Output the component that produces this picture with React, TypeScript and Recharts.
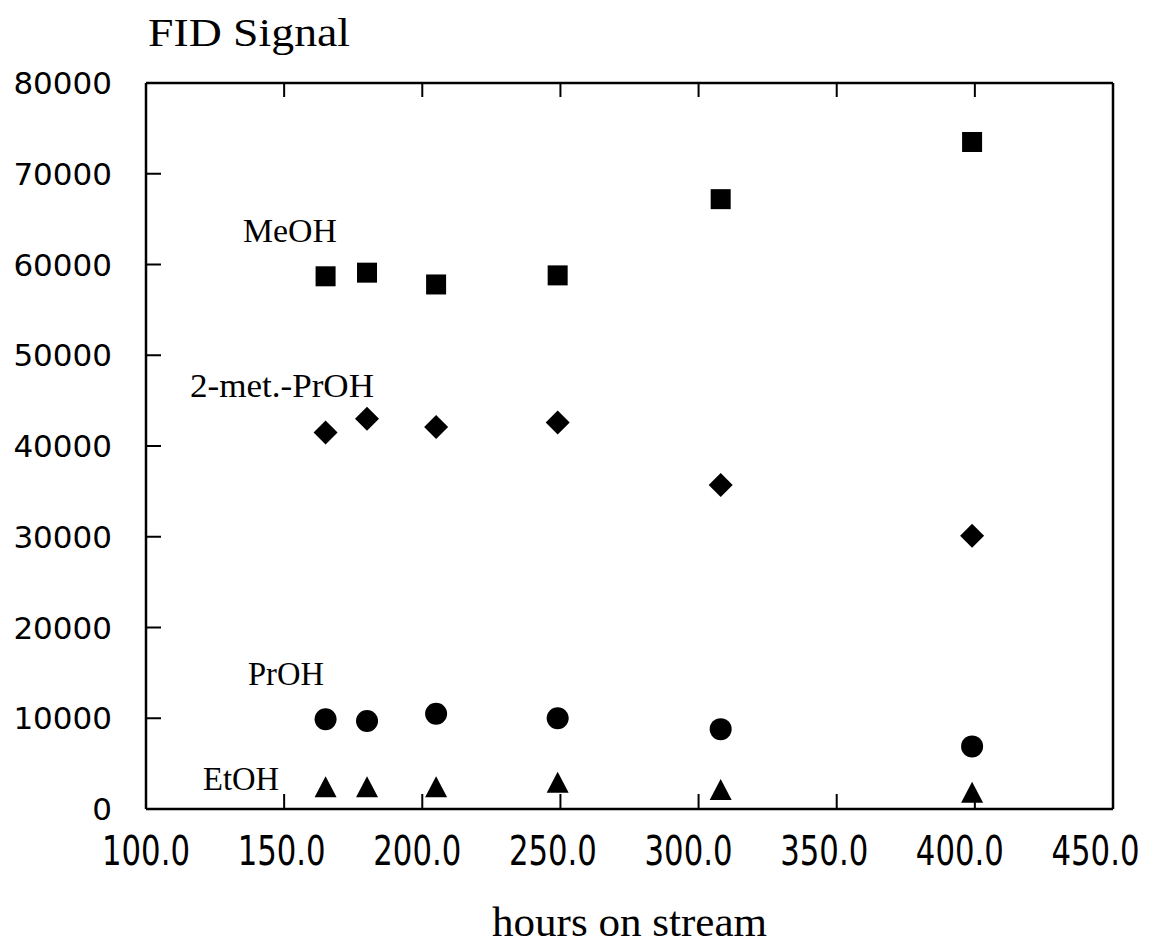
import { ScatterChart, Scatter, XAxis, YAxis } from "recharts";

const hours = [165, 180, 205, 249, 308, 399];
const meoh = [58700, 59100, 57800, 58800, 67200, 73500];
const metPrOH = [41500, 43000, 42100, 42600, 35700, 30100];
const prOH = [9900, 9700, 10500, 10000, 8800, 6900];
const etOH = [2400, 2400, 2400, 2900, 2100, 1800];

const xTicks = [100, 150, 200, 250, 300, 350, 400, 450];
const yTicks = [0, 10000, 20000, 30000, 40000, 50000, 60000, 70000, 80000];

const toPoints = (vals: number[]) => hours.map((h, i) => ({ x: h, y: vals[i] }));

const serif = "'Liberation Serif', 'Times New Roman', serif";
const sans = "'DejaVu Sans', Verdana, sans-serif";

const SquareDot = (p: any) => (
  <rect x={p.cx - 10} y={p.cy - 10} width={20} height={20} fill="#000" />
);
const DiamondDot = (p: any) => (
  <polygon
    points={`${p.cx},${p.cy - 12} ${p.cx + 12},${p.cy} ${p.cx},${p.cy + 12} ${p.cx - 12},${p.cy}`}
    fill="#000"
  />
);
const CircleDot = (p: any) => <circle cx={p.cx} cy={p.cy} r={11} fill="#000" />;
const TriangleDot = (p: any) => (
  <polygon
    points={`${p.cx},${p.cy - 11} ${p.cx + 11},${p.cy + 10} ${p.cx - 11},${p.cy + 10}`}
    fill="#000"
  />
);
const NoDot = () => <g />;

const isEdge = (v: number, lo: number, hi: number) => v === lo || v === hi;

// every axis uses tickSize=1 / tickMargin=1, so the axis line is 2px from p.x / p.y;
// tick marks are drawn here pointing into the plot

const XTick = (p: any) => {
  const v = p.payload.value;
  const base = p.y - 2;
  return (
    <g>
      {!isEdge(v, 100, 450) && (
        <line x1={p.x} y1={base} x2={p.x} y2={base - 15} stroke="#000" strokeWidth={2} />
      )}
      <text
        x={p.x - p.index * 2.5}
        y={base + 56}
        textAnchor="middle"
        fontFamily={sans}
        fontSize={40}
        textLength={88}
        lengthAdjust="spacingAndGlyphs"
        fill="#000"
      >
        {v.toFixed(1)}
      </text>
    </g>
  );
};

const TopTick = (p: any) => {
  const v = p.payload.value;
  if (isEdge(v, 100, 450)) return <g />;
  const base = p.y + 2;
  return <line x1={p.x} y1={base} x2={p.x} y2={base + 14} stroke="#000" strokeWidth={2} />;
};

const YTick = (p: any) => {
  const v = p.payload.value;
  const base = p.x + 2;
  return (
    <g>
      {!isEdge(v, 0, 80000) && (
        <line x1={base} y1={p.y} x2={base + 15} y2={p.y} stroke="#000" strokeWidth={2} />
      )}
      <text
        x={base - 34}
        y={p.y}
        dy={11}
        textAnchor="end"
        fontFamily={sans}
        fontSize={31}
        fill="#000"
      >
        {v}
      </text>
    </g>
  );
};

const labels = [
  { text: "MeOH", x: 243, y: 242, size: 33, len: 94 },
  { text: "2-met.-PrOH", x: 190, y: 397, size: 33, len: 184 },
  { text: "PrOH", x: 248, y: 685, size: 33, len: 76 },
  { text: "EtOH", x: 203, y: 790, size: 33, len: 76 },
];

const frame = { stroke: "#000", strokeWidth: 2.5 };

export default function App() {
  return (
    <div
      style={{
        position: "absolute",
        left: 0,
        top: 0,
        width: 1158,
        height: 944,
        background: "#fff",
      }}
    >
      <ScatterChart
        width={1158}
        height={944}
        margin={{ top: 82, right: 44, left: 0, bottom: 0 }}
      >
        <XAxis
          dataKey="x"
          type="number"
          domain={[100, 450]}
          ticks={xTicks}
          height={135}
          tickSize={1}
          tickMargin={1}
          tickLine={false}
          tick={<XTick />}
          axisLine={frame}
          allowDataOverflow
          interval={0}
        />
        <XAxis
          xAxisId="top"
          dataKey="x"
          orientation="top"
          type="number"
          domain={[100, 450]}
          ticks={xTicks}
          height={1}
          tickSize={1}
          tickMargin={1}
          tickLine={false}
          tick={<TopTick />}
          axisLine={frame}
          allowDataOverflow
          interval={0}
        />
        <YAxis
          dataKey="y"
          type="number"
          domain={[0, 80000]}
          ticks={yTicks}
          width={146}
          tickSize={1}
          tickMargin={1}
          tickLine={false}
          tick={<YTick />}
          axisLine={frame}
          allowDataOverflow
          interval={0}
        />
        <YAxis
          yAxisId="right"
          dataKey="y"
          orientation="right"
          type="number"
          domain={[0, 80000]}
          width={1}
          tick={false}
          tickLine={false}
          axisLine={frame}
          allowDataOverflow
        />
        <Scatter data={toPoints(meoh)} shape={SquareDot} isAnimationActive={false} />
        <Scatter data={toPoints(metPrOH)} shape={DiamondDot} isAnimationActive={false} />
        <Scatter data={toPoints(prOH)} shape={CircleDot} isAnimationActive={false} />
        <Scatter data={toPoints(etOH)} shape={TriangleDot} isAnimationActive={false} />
        {/* invisible copy so the top / right frame axes get drawn */}
        <Scatter
          xAxisId="top"
          yAxisId="right"
          data={toPoints(meoh)}
          shape={NoDot}
          isAnimationActive={false}
        />
      </ScatterChart>
      <svg
        width={1158}
        height={944}
        style={{ position: "absolute", left: 0, top: 0, pointerEvents: "none" }}
      >
        <text x={148} y={46} fontFamily={serif} fontSize={39} textLength={202} lengthAdjust="spacingAndGlyphs">
          FID Signal
        </text>
        {labels.map((l) => (
          <text
            key={l.text}
            x={l.x}
            y={l.y}
            fontFamily={serif}
            fontSize={l.size}
            textLength={l.len}
            lengthAdjust="spacingAndGlyphs"
          >
            {l.text}
          </text>
        ))}
        <text x={492} y={936} fontFamily={serif} fontSize={43} textLength={275} lengthAdjust="spacingAndGlyphs">
          hours on stream
        </text>
      </svg>
    </div>
  );
}
